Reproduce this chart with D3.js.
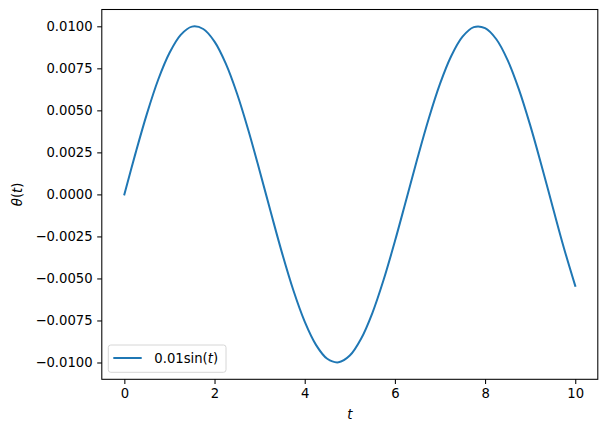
<!DOCTYPE html>
<html lang="en">
<head>
  <meta charset="UTF-8">
  <title>theta(t)</title>
  <script src="https://cdn.jsdelivr.net/npm/d3@7"></script>
  <style>
    body { margin: 0; background: #fff; }
    text { font-family: "DejaVu Sans", sans-serif; fill: #000; }
  </style>
</head>
<body>
  <svg width="607" height="432"></svg>
  <script>
    // values, t step 0.25
    const tValues = d3.range(41).map(i => i * 0.25);
    const thetaValues = [
      0.00000, 0.00247, 0.00479, 0.00682, 0.00841, 0.00949, 0.00998, 0.00984,
      0.00909, 0.00778, 0.00599, 0.00382, 0.00141, -0.00108, -0.00351, -0.00572,
      -0.00757, -0.00895, -0.00978, -0.00999, -0.00959, -0.00859, -0.00706, -0.00508,
      -0.00279, -0.00033, 0.00215, 0.00450, 0.00657, 0.00823, 0.00938, 0.00995,
      0.00989, 0.00923, 0.00799, 0.00625, 0.00412, 0.00174, -0.00075, -0.00320,
      -0.00544
    ];
    const xTicks = [0, 2, 4, 6, 8, 10];
    const yTicks = [-0.01, -0.0075, -0.005, -0.0025, 0, 0.0025, 0.005, 0.0075, 0.01];
    const seriesLabel = '0.01sin(t)';

    const svg = d3.select('svg');
    const mLeft = 101.8, mRight = 597.8, mTop = 9.5, mBottom = 379.3;

    const x = d3.scaleLinear().domain([-0.5, 10.5]).range([mLeft, mRight]);
    const y = d3.scaleLinear().domain([-0.011, 0.011]).range([mBottom, mTop]);

    const fmt = v => d3.format('.4f')(v).replace('-', '\u2212');

    svg.append('g')
      .attr('transform', `translate(0,${mBottom})`)
      .call(d3.axisBottom(x).tickValues(xTicks).tickSize(4.6).tickPadding(4.6).tickFormat(d3.format('d')))
      .call(g => g.select('.domain').remove())
      .call(g => g.selectAll('line').attr('stroke-width', 1.05));

    svg.append('g')
      .attr('transform', `translate(${mLeft},0)`)
      .call(d3.axisLeft(y).tickValues(yTicks).tickSize(4.6).tickPadding(4.6).tickFormat(fmt))
      .call(g => g.select('.domain').remove())
      .call(g => g.selectAll('line').attr('stroke-width', 1.05));

    svg.selectAll('.tick text')
      .attr('font-family', 'DejaVu Sans')
      .attr('font-size', 13.2);

    const line = d3.line()
      .x((d, i) => x(tValues[i]))
      .y(d => y(d))
      .curve(d3.curveCatmullRom);

    svg.append('path')
      .datum(thetaValues)
      .attr('d', line)
      .attr('fill', 'none')
      .attr('stroke', '#1f77b4')
      .attr('stroke-width', 2)
      .attr('stroke-linecap', 'square');

    // frame
    svg.append('rect')
      .attr('x', mLeft).attr('y', mTop)
      .attr('width', mRight - mLeft).attr('height', mBottom - mTop)
      .attr('fill', 'none').attr('stroke', '#000').attr('stroke-width', 1.05);

    // axis labels
    svg.append('text')
      .attr('x', (mLeft + mRight) / 2).attr('y', 419)
      .attr('text-anchor', 'middle')
      .attr('font-size', 13.2).attr('font-style', 'italic')
      .text('t');

    const yl = svg.append('text')
      .attr('transform', `translate(22,${(mTop + mBottom) / 2}) rotate(-90)`)
      .attr('text-anchor', 'middle')
      .attr('font-size', 13.2);
    yl.append('tspan').attr('font-style', 'italic').text('\u03b8');
    yl.append('tspan').text('(');
    yl.append('tspan').attr('font-style', 'italic').text('t');
    yl.append('tspan').text(')');

    // legend
    const lg = svg.append('g');
    lg.append('rect')
      .attr('x', 108.3).attr('y', 345).attr('width', 117.7).attr('height', 27.3)
      .attr('rx', 2.5)
      .attr('fill', '#fff').attr('fill-opacity', 0.8)
      .attr('stroke', '#d6d6d6').attr('stroke-width', 1);
    lg.append('line')
      .attr('x1', 113.3).attr('x2', 141.7).attr('y1', 358).attr('y2', 358)
      .attr('stroke', '#1f77b4').attr('stroke-width', 2);
    const lt = lg.append('text')
      .attr('x', 154.3).attr('y', 362.7)
      .attr('font-size', 13.2);
    lt.append('tspan').text(seriesLabel.slice(0, 8));
    lt.append('tspan').attr('font-style', 'italic').text(seriesLabel.slice(8, 9));
    lt.append('tspan').text(seriesLabel.slice(9));
  </script>
</body>
</html>
